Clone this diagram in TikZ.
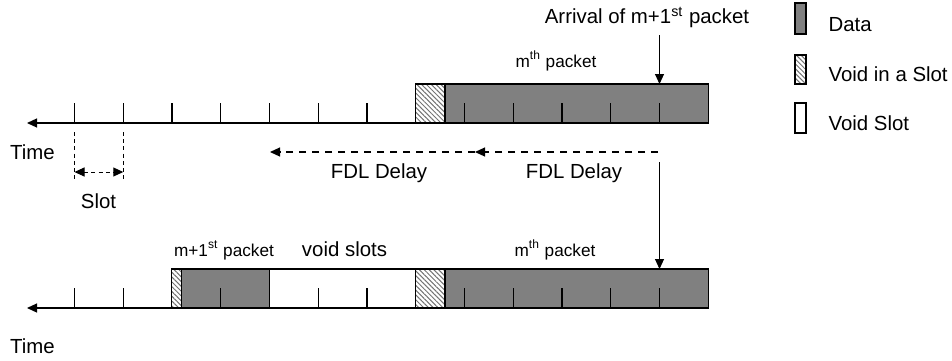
\documentclass[tikz,border=0pt]{standalone}
\usepackage{fontspec}
\setmainfont{Liberation Sans}
\usetikzlibrary{arrows.meta,patterns.meta}

\begin{document}
\begin{tikzpicture}[x=0.5pt,y=-0.5pt,line width=0.6pt,
  tip/.style={-{Triangle[length=5pt,width=4.5pt]}},
  databox/.style={fill=black!50,draw=black},
  voidbox/.style={draw=black,pattern={Lines[angle=-45,distance=1.7pt,line width=0.5pt]},pattern color=black!55},
  slotbox/.style={fill=white,draw=black},
  fdl/.style={dash pattern=on 3.5pt off 3pt},
  slotline/.style={line width=0.5pt,dash pattern=on 2pt off 1.6pt},
  lbl/.style={font=\fontsize{10.2}{12}\selectfont,inner sep=0pt,anchor=base},
  smalllbl/.style={font=\fontsize{8.6}{10}\selectfont,inner sep=0pt,anchor=base}]
  \useasboundingbox (0,0) rectangle (952,360);
  \coordinate (topend) at (415.75,123);
  \coordinate (toptip) at (27,123);
  \draw[tip] (topend) -- (toptip);
  \draw (74.5,103) -- (74.5,123);
  \draw (123.25,103) -- (123.25,123);
  \draw (172,103) -- (172,123);
  \draw (220.75,103) -- (220.75,123);
  \draw (269.5,103) -- (269.5,123);
  \draw (318.25,103) -- (318.25,123);
  \draw (367,103) -- (367,123);
  \draw[voidbox] (415.75,84) rectangle (445,123);
  \filldraw[databox] (445,84) rectangle (708.25,123);
  \draw (464.5,103) -- (464.5,123);
  \draw (513.25,103) -- (513.25,123);
  \draw (562,103) -- (562,123);
  \draw (610.75,103) -- (610.75,123);
  \draw (659.5,103) -- (659.5,123);
  \node[lbl] (arrival) at (647,23.3) {Arrival of m+1\textsuperscript{st} packet};
  \node[smalllbl] (mthtop) at (556,67) {m\textsuperscript{th} packet};
  \coordinate (arrstart) at (659.5,35);
  \coordinate (arrhit) at (659.5,84);
  \draw[tip,line width=0.5pt] (arrstart) -- (arrhit);
  \node[lbl] (timetop) at (32.5,159.3) {Time};
  \coordinate (slotleft) at (74.5,172);
  \coordinate (slotright) at (123.25,172);
  \draw[slotline] (74.5,132) -- (74.5,182);
  \draw[slotline] (123.25,132) -- (123.25,182);
  \draw[slotline,{Triangle[length=5pt,width=4.5pt]}-{Triangle[length=5pt,width=4.5pt]}] (slotleft) -- (slotright);
  \node[lbl] (slotlbl) at (98.5,208.3) {Slot};
  \coordinate (fdlstart) at (658,152);
  \coordinate (fdlmid) at (475,152);
  \coordinate (fdlend) at (270,152);
  \draw[fdl,tip] (fdlstart) -- (fdlmid);
  \draw[fdl,tip] (fdlmid) -- (fdlend);
  \node[lbl] (fdlone) at (379,178.3) {FDL Delay};
  \node[lbl] (fdltwo) at (574,178.3) {FDL Delay};
  \coordinate (dropstart) at (659.5,162);
  \coordinate (drophit) at (659.5,269);
  \draw[tip,line width=0.5pt] (dropstart) -- (drophit);
  \coordinate (botend) at (171.75,308);
  \coordinate (bottip) at (27,308);
  \draw[tip] (botend) -- (bottip);
  \draw (74.5,288) -- (74.5,308);
  \draw (123.25,288) -- (123.25,308);
  \draw[voidbox] (171.75,269) rectangle (181.75,308);
  \filldraw[databox] (181.75,269) rectangle (269.5,308);
  \draw (220.75,288) -- (220.75,308);
  \filldraw[slotbox] (269.5,269) rectangle (415.75,308);
  \draw (318.25,288) -- (318.25,308);
  \draw (367,288) -- (367,308);
  \draw[voidbox] (415.75,269) rectangle (445,308);
  \filldraw[databox] (445,269) rectangle (708.25,308);
  \draw (464.5,288) -- (464.5,308);
  \draw (513.25,288) -- (513.25,308);
  \draw (562,288) -- (562,308);
  \draw (610.75,288) -- (610.75,308);
  \draw (659.5,288) -- (659.5,308);
  \node[smalllbl] (nextpkt) at (224,256) {m+1\textsuperscript{st} packet};
  \node[lbl] (voidslots) at (344.5,256) {void slots};
  \node[smalllbl] (mthbot) at (555,256) {m\textsuperscript{th} packet};
  \node[lbl] (timebot) at (32.5,353.3) {Time};
  \filldraw[databox] (795,3) rectangle (806,34);
  \node[lbl,anchor=base west] (legdata) at (828,31.7) {Data};
  \draw[voidbox] (795,55) rectangle (806,84);
  \node[lbl,anchor=base west] (legvoid) at (828,81) {Void in a Slot};
  \filldraw[slotbox] (795,103) rectangle (806,133);
  \node[lbl,anchor=base west] (legslot) at (828,130) {Void Slot};
\end{tikzpicture}
\end{document}
